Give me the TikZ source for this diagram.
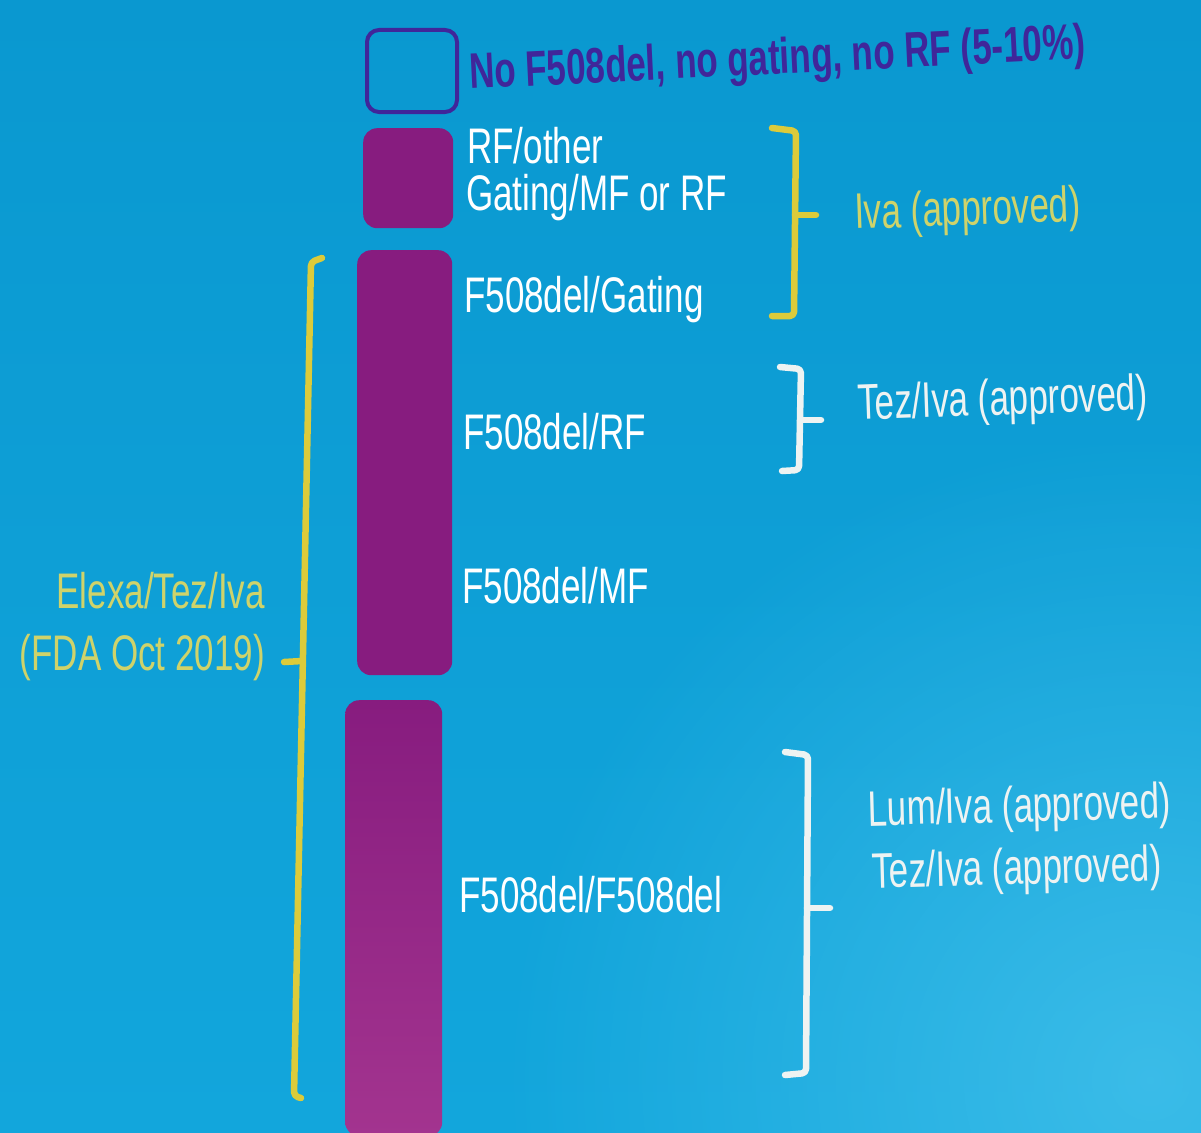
\documentclass[tikz,border=0pt]{standalone}
\usepackage{fontspec}
\setmainfont[FakeStretch=0.7]{Liberation Sans}
\usetikzlibrary{fadings}
\definecolor{bgtop}{HTML}{0A98D0}
\definecolor{bgbot}{HTML}{12A6DC}
\definecolor{glow}{HTML}{4CC6EE}
\definecolor{plum}{HTML}{871C7F}
\definecolor{plumlight}{HTML}{A3348F}
\definecolor{indigo}{HTML}{40269A}
\definecolor{brkyellow}{HTML}{DCCB3A}
\definecolor{txtyellow}{HTML}{CFD36A}
\definecolor{brkwhite}{HTML}{EEF3F2}
\tikzfading[name=softglow, inner color=transparent!30, outer color=transparent!100]
\begin{document}
\begin{tikzpicture}[x=1pt,y=-1pt,
  bar/.style={fill=plum, rounded corners=14pt, anchor=north west, inner sep=0pt},
  lbl/.style={inner sep=0pt, anchor=base west, text=white, font=\fontsize{50}{42}\selectfont},
  ylbl/.style={lbl, text=txtyellow},
  wlbl/.style={lbl, text=brkwhite},
  brk/.style={line width=6.5pt, line cap=round, line join=round, rounded corners=4pt}]
\useasboundingbox (0,0) rectangle (1201,1132);

% background
\shade[top color=bgtop, bottom color=bgbot] (0,0) rectangle (1201,1132);
\fill[glow, path fading=softglow] (1150,1080) circle (650pt);

% genotype bars
\node[draw=indigo, line width=4pt, rounded corners=12pt, anchor=north west,
  minimum width=90pt, minimum height=82pt, inner sep=0pt] (none) at (365,28) {};
\node[bar, minimum width=90pt, minimum height=100pt] (rfo) at (363,128) {};
\node[bar, minimum width=95pt, minimum height=425pt] (mix) at (357,250) {};
\node[bar, minimum width=97pt, minimum height=436pt, fill=none,
  top color=plum, bottom color=plumlight] (hom) at (345,700) {};

% genotype labels
\node[lbl, text=indigo, font=\bfseries\fontsize{50}{50}\selectfont, rotate=2.8]
  (tnone) at (470,89) {No F508del, no gating, no RF (5-10\%)};
\node[lbl] (trf1) at (467,163) {RF/other};
\node[lbl] (trf2) at (466,210) {Gating/MF or RF};
\node[lbl] (tgat) at (464,312) {F508del/Gating};
\node[lbl] (trf)  at (463,449) {F508del/RF};
\node[lbl] (tmf)  at (462,603) {F508del/MF};
\node[lbl] (thom) at (459,912) {F508del/F508del};

% therapy labels
\node[ylbl, rotate=2] (iva) at (855,229) {Iva (approved)};
\node[wlbl, rotate=2] (teziva) at (858,420) {Tez/Iva (approved)};
\node[wlbl, rotate=1.5] (lum) at (868,826) {Lum/Iva (approved)};
\node[wlbl, rotate=1.5] (tez2) at (872,888) {Tez/Iva (approved)};
\node[ylbl, anchor=base east] (elx1) at (265,608) {Elexa/Tez/Iva};
\node[ylbl, anchor=base east] (elx2) at (265,670) {(FDA Oct 2019)};

% bracket: Iva
\coordinate (a1) at (772,128);
\coordinate (a2) at (796,131);
\coordinate (a3) at (794,316);
\coordinate (a4) at (772,316);
\coordinate (am) at (795,215);
\draw[brk, brkyellow] (a1) -- (a2) -- (a3) -- (a4);
\draw[brk, brkyellow, rounded corners=0pt] (am) -- ++(21,0) coordinate (at);

% bracket: Tez/Iva (F508del/RF)
\coordinate (b1) at (780,367);
\coordinate (b2) at (801,369);
\coordinate (b3) at (799,470);
\coordinate (b4) at (782,471);
\coordinate (bm) at (800,420);
\draw[brk, brkwhite] (b1) -- (b2) -- (b3) -- (b4);
\draw[brk, brkwhite, rounded corners=0pt] (bm) -- ++(21,0) coordinate (bt);

% bracket: Lum/Iva, Tez/Iva (F508del/F508del)
\coordinate (c1) at (785,752);
\coordinate (c2) at (808,755);
\coordinate (c3) at (806,1073);
\coordinate (c4) at (785,1075);
\coordinate (cm) at (807,908);
\draw[brk, brkwhite] (c1) -- (c2) -- (c3) -- (c4);
\draw[brk, brkwhite, rounded corners=0pt] (cm) -- ++(23,0) coordinate (ct);

% bracket: Elexa/Tez/Iva
\coordinate (d1) at (322,258);
\coordinate (d2) at (311,262);
\coordinate (d3) at (294,1096);
\coordinate (d4) at (301,1098);
\coordinate (dm) at (302,661);
\draw[brk, brkyellow] (d1) -- (d2) -- (d3) -- (d4);
\draw[brk, brkyellow, rounded corners=0pt] (dm) -- ++(-18,1) coordinate (dt);
\end{tikzpicture}
\end{document}
